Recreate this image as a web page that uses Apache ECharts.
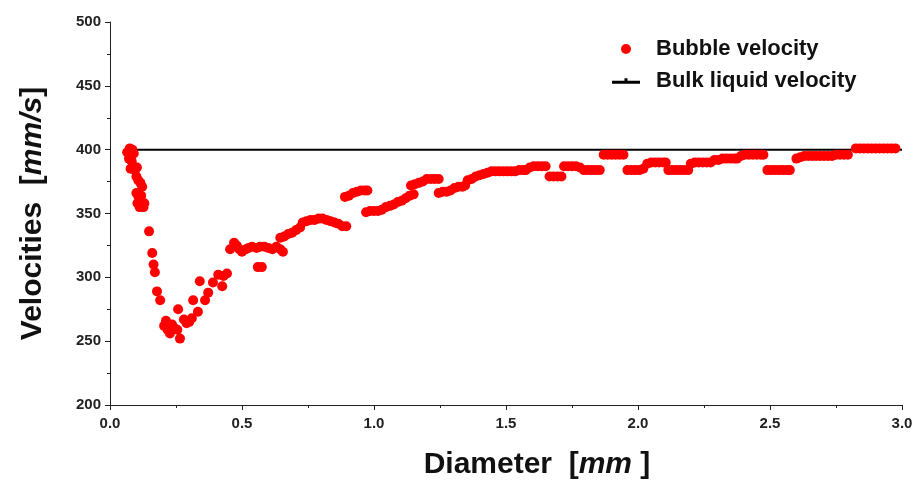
<!DOCTYPE html>
<html>
<head>
<meta charset="utf-8">
<script src="https://cdn.jsdelivr.net/npm/echarts@6/dist/echarts.min.js"></script>
<style>
  html, body { margin: 0; padding: 0; background: #fff; }
  #chart { width: 915px; height: 481px; }
</style>
</head>
<body>
<div id="chart"></div>
<script>
// bubble velocity points [diameter mm, velocity mm/s]
var bubblePoints = [
    [0.065, 398], [0.075, 401], [0.085, 400], [0.09, 397], [0.072, 393], [0.082, 391], [0.088, 387], [0.078, 385], [0.095, 384], [0.102, 386],
    [0.1, 379], [0.107, 376], [0.115, 374], [0.122, 371],
    [0.1, 366], [0.108, 363], [0.114, 360], [0.12, 357], [0.127, 355], [0.104, 358], [0.13, 358], [0.118, 364], [0.112, 355],
    [0.148, 336], [0.16, 319], [0.165, 310], [0.17, 304], [0.178, 289], [0.19, 282],
    [0.205, 262], [0.212, 266], [0.218, 259], [0.227, 256], [0.235, 263], [0.245, 260], [0.255, 259], [0.258, 275], [0.265, 252],
    [0.28, 267], [0.29, 264], [0.3, 265], [0.31, 268],
    [0.315, 282], [0.333, 273], [0.34, 297], [0.36, 282], [0.372, 288],
    [0.39, 296], [0.41, 302], [0.425, 293], [0.443, 303], [0.43, 301],
    [0.455, 322], [0.47, 327], [0.48, 325], [0.49, 322], [0.5, 320], [0.515, 322], [0.525, 323], [0.538, 324], [0.555, 323], [0.568, 324],
    [0.56, 308], [0.575, 308],
    [0.585, 324], [0.6, 323], [0.615, 322], [0.63, 324], [0.645, 322], [0.655, 320],
    [0.645, 331], [0.66, 332], [0.675, 334], [0.69, 335], [0.705, 337], [0.72, 339],
    [0.73, 343], [0.745, 344], [0.76, 345], [0.775, 345], [0.79, 346], [0.805, 346], [0.82, 345], [0.835, 344], [0.85, 343], [0.865, 342], [0.88, 340], [0.895, 340],
    [0.89, 363], [0.905, 364], [0.92, 366], [0.935, 367], [0.95, 368], [0.965, 368], [0.975, 368],
    [0.97, 351], [0.985, 352], [1.0, 352], [1.015, 352], [1.03, 353], [1.045, 355],
    [1.06, 356], [1.075, 357], [1.09, 359], [1.105, 360], [1.12, 362], [1.135, 364], [1.15, 365],
    [1.14, 372], [1.155, 373], [1.17, 374], [1.185, 375], [1.2, 377], [1.215, 377], [1.23, 377], [1.245, 377],
    [1.245, 366], [1.26, 367], [1.275, 367], [1.29, 368], [1.305, 370], [1.32, 371], [1.335, 371], [1.345, 372],
    [1.355, 376], [1.37, 377], [1.385, 379], [1.4, 380], [1.415, 381], [1.43, 382],
    [1.445, 383], [1.46, 383], [1.475, 383], [1.49, 383], [1.505, 383], [1.52, 383], [1.535, 383], [1.55, 384], [1.565, 384], [1.575, 384],
    [1.59, 386], [1.605, 387], [1.62, 387], [1.635, 387], [1.65, 387],
    [1.665, 379], [1.68, 379], [1.695, 379], [1.71, 379],
    [1.72, 387], [1.735, 387], [1.75, 387], [1.765, 387], [1.78, 386],
    [1.795, 384], [1.81, 384], [1.825, 384], [1.84, 384], [1.855, 384],
    [1.87, 396], [1.885, 396], [1.9, 396], [1.915, 396], [1.93, 396], [1.945, 396],
    [1.96, 384], [1.975, 384], [1.99, 384], [2.005, 384], [2.02, 385],
    [2.035, 389], [2.05, 390], [2.065, 390], [2.08, 390], [2.095, 390], [2.105, 390],
    [2.115, 384], [2.13, 384], [2.145, 384], [2.16, 384], [2.175, 384], [2.19, 384],
    [2.2, 389], [2.215, 390], [2.23, 390], [2.245, 390], [2.26, 390], [2.275, 390],
    [2.29, 392], [2.305, 392], [2.32, 393], [2.335, 393], [2.35, 393], [2.365, 393], [2.375, 393],
    [2.39, 395], [2.405, 396], [2.42, 396], [2.435, 396], [2.45, 396], [2.465, 396], [2.475, 396],
    [2.49, 384], [2.505, 384], [2.52, 384], [2.535, 384], [2.55, 384], [2.565, 384], [2.575, 384],
    [2.6, 393], [2.615, 394], [2.63, 395], [2.645, 395], [2.66, 395], [2.675, 395], [2.69, 395], [2.705, 395], [2.72, 395],
    [2.735, 395], [2.75, 396], [2.765, 396], [2.78, 396], [2.795, 396],
    [2.825, 401], [2.84, 401], [2.855, 401], [2.87, 401], [2.885, 401], [2.9, 401], [2.915, 401], [2.93, 401], [2.945, 401], [2.96, 401], [2.975, 401]
];
// bulk liquid velocity (constant)
var bulkX = [0.07, 3.0];
var bulkY = [400, 400];

var xTicks = { min: 0, max: 3, interval: 0.5 };
var yTicks = { min: 200, max: 500, interval: 50 };

var bulkData = bulkX.map(function (x, i) { return [x, bulkY[i]]; });

var font = 'Liberation Sans, Arial, sans-serif';
var myChart = echarts.init(document.getElementById('chart'));
myChart.setOption({
    animation: false,
    grid: { left: 110, right: 13, top: 22, bottom: 76, outerBoundsMode: 'none', containLabel: false },
    legend: {
        orient: 'vertical',
        left: 607,
        top: 33,
        itemWidth: 28,
        itemHeight: 10,
        itemGap: 10,
        textStyle: { fontFamily: font, fontSize: 22, fontWeight: 'bold', color: '#111', padding: [0, 0, 0, 11] },
        data: [
            { name: 'Bubble velocity', icon: 'circle' },
            { name: 'Bulk liquid velocity', icon: 'path://M0,5.5 L28,5.5 L28,8.5 L0,8.5 Z M12.5,3 L15.5,3 L15.5,6 L12.5,6 Z' }
        ]
    },
    xAxis: {
        type: 'value',
        min: xTicks.min,
        max: xTicks.max,
        interval: xTicks.interval,
        name: 'Diameter  [{i|mm} ]',
        nameLocation: 'middle',
        nameGap: 45,
        nameTextStyle: {
            fontFamily: font, fontSize: 30, fontWeight: 'bold', color: '#111',
            padding: [0, 0, 0, 62],
            rich: { i: { fontFamily: font, fontSize: 30, fontWeight: 'bold', fontStyle: 'italic', color: '#111' } }
        },
        axisLine: { lineStyle: { color: '#222', width: 1 } },
        axisTick: { inside: false, length: 5, lineStyle: { color: '#222' } },
        minorTick: { show: true, splitNumber: 2, length: 3, lineStyle: { color: '#222' } },
        splitLine: { show: false },
        axisLabel: {
            margin: 11, fontFamily: font, fontSize: 15, fontWeight: 'bold', color: '#222',
            formatter: function (v) { return v.toFixed(1); }
        }
    },
    yAxis: {
        type: 'value',
        min: yTicks.min,
        max: yTicks.max,
        interval: yTicks.interval,
        name: 'Velocities  [{i|mm/s}]',
        nameLocation: 'middle',
        nameGap: 62,
        nameTextStyle: {
            fontFamily: font, fontSize: 30, fontWeight: 'bold', color: '#111',
            rich: { i: { fontFamily: font, fontSize: 30, fontWeight: 'bold', fontStyle: 'italic', color: '#111' } }
        },
        axisLine: { show: true, lineStyle: { color: '#222', width: 1 } },
        axisTick: { inside: false, length: 5, lineStyle: { color: '#222' } },
        minorTick: { show: true, splitNumber: 2, length: 3, lineStyle: { color: '#222' } },
        splitLine: { show: false },
        axisLabel: { margin: 9, fontFamily: font, fontSize: 15, fontWeight: 'bold', color: '#222' }
    },
    series: [
        {
            name: 'Bulk liquid velocity',
            type: 'line',
            data: bulkData,
            symbol: 'none',
            lineStyle: { color: '#000', width: 2 },
            itemStyle: { color: '#000' },
            z: 2
        },
        {
            name: 'Bubble velocity',
            type: 'scatter',
            data: bubblePoints,
            symbol: 'circle',
            symbolSize: 10,
            itemStyle: { color: '#ff0000', opacity: 1 },
            z: 3
        }
    ]
});
</script>
</body>
</html>
